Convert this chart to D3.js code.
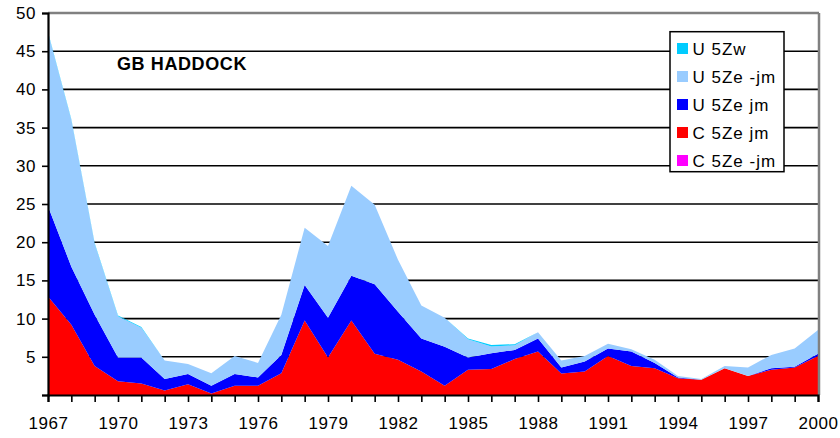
<!DOCTYPE html>
<html><head><meta charset="utf-8">
<script src="https://cdn.jsdelivr.net/npm/d3@7"></script>
<style>body{margin:0;background:#fff}svg{display:block;font-family:"Liberation Sans",Arial,sans-serif}</style>
</head><body><svg id="c" width="840" height="438"></svg>
<script>
const years = d3.range(1967, 2001);
const xTickLabels = [1967,1970,1973,1976,1979,1982,1985,1988,1991,1994,1997,2000];
const yTicks = [5,10,15,20,25,30,35,40,45,50];
const seriesNames = ["C 5Ze -jm","C 5Ze jm","U 5Ze jm","U 5Ze -jm","U 5Zw"];
const seriesColors = ["#FF00FF","#FF0000","#0000FF","#99CCFF","#00CCFF"];
const C5Ze_njm = [0,0,0,0,0,0,0,0,0,0,0,0,0,0,0,0,0,0,0,0,0,0,0,0,0,0,0,0,0,0,0,0,0,0];
const C5Ze_jm  = [12.9,9.2,3.8,1.8,1.5,0.6,1.4,0.2,1.2,1.2,2.85,9.75,4.9,9.75,5.4,4.6,3.06,1.2,3.3,3.4,4.7,5.7,2.8,3.06,5.1,3.8,3.5,2.2,2.0,3.5,2.5,3.3,3.6,5.1];
const U5Ze_jm  = [11.8,7.6,6.7,3.1,3.4,1.5,1.36,1.02,1.56,1.1,2.4,4.65,5.2,5.85,9.1,6.3,4.34,5.1,1.6,2.05,1.2,1.7,0.8,1.34,1.0,1.9,0.7,0.1,0,0,0,0.2,0.1,0.3];
const U5Ze_njm = [22.7,19.2,9.3,5.4,3.9,2.4,1.31,1.63,2.34,1.9,5.25,7.5,9.4,11.8,10.4,6.8,4.3,3.8,2.4,0.9,0.6,0.8,0.9,0.7,0.6,0.3,0.4,0.2,0.1,0.3,1.1,1.75,2.4,3.1];
const U5Zw     = [0.1,0.1,0.1,0.1,0.1,0,0,0,0,0,0,0,0,0,0,0,0,0,0.1,0.2,0.15,0,0,0,0,0,0,0,0,0,0,0,0,0];

const table = years.map((y,i)=>({year:y,"C 5Ze -jm":C5Ze_njm[i],"C 5Ze jm":C5Ze_jm[i],"U 5Ze jm":U5Ze_jm[i],"U 5Ze -jm":U5Ze_njm[i],"U 5Zw":U5Zw[i]}));

const svg = d3.select("#c");
const L=48, R=818, T=13, B=395;
const x = d3.scaleLinear().domain([1967,2000]).range([L,R]);
const y = d3.scaleLinear().domain([0,50]).range([B,T]);
const FONT = "'Liberation Sans',Arial,sans-serif";

// gridlines
svg.append("g").selectAll("line").data(yTicks.filter(v=>v<50)).join("line")
  .attr("x1",L).attr("x2",R).attr("y1",d=>y(d)).attr("y2",d=>y(d))
  .attr("stroke","#000").attr("stroke-width",1.6);

const stack = d3.stack().keys(seriesNames)(table);
const area = d3.area().x(d=>x(d.data.year)).y0(d=>y(d[0])).y1(d=>y(d[1]));
svg.append("g").selectAll("path").data(stack).join("path")
  .attr("d",area).attr("fill",(d,i)=>seriesColors[i]);

// plot border top/right grey
svg.append("line").attr("x1",L).attr("x2",R+1).attr("y1",y(50)).attr("y2",y(50)).attr("stroke","#808080").attr("stroke-width",2.5);
svg.append("line").attr("x1",R+1).attr("x2",R+1).attr("y1",y(50)).attr("y2",B).attr("stroke","#808080").attr("stroke-width",2.5);

// y axis
const ya = svg.append("g").attr("transform",`translate(${L},0)`)
  .call(d3.axisLeft(y).tickValues([0,...yTicks]).tickSize(6).tickFormat(d=>d===0?"":d));
ya.select(".domain").attr("stroke","#000").attr("stroke-width",2.2);
ya.selectAll(".tick line").attr("stroke","#000").attr("stroke-width",1.6);
ya.selectAll("text").attr("font-size",17).attr("letter-spacing",0.5).attr("fill","#000").attr("x",-12).attr("font-family",FONT);

// x axis
const xa = svg.append("g").attr("transform",`translate(0,${B})`)
  .call(d3.axisBottom(x).tickValues(years).tickSize(7).tickFormat(d=>xTickLabels.includes(d)?d:""));
xa.select(".domain").attr("stroke","#000").attr("stroke-width",2.2);
xa.selectAll(".tick line").attr("stroke","#000").attr("stroke-width",1.6);
xa.selectAll("text").attr("font-size",17).attr("letter-spacing",0.5).attr("fill","#000").attr("y",22).attr("font-family",FONT);

// title
svg.append("text").attr("x",117).attr("y",70).attr("font-size",18).attr("letter-spacing",0.6)
  .attr("font-weight","bold").text("GB HADDOCK");

// legend
const lg = svg.append("g");
lg.append("rect").attr("x",670).attr("y",31.7).attr("width",114).attr("height",140)
  .attr("fill","#fff").attr("stroke","#000").attr("stroke-width",1.5);
const legendItems = seriesNames.slice().reverse().map((n,i)=>({n,c:seriesColors[seriesColors.length-1-i]}));
const rows = lg.selectAll("g.it").data(legendItems).join("g").attr("class","it")
  .attr("transform",(d,i)=>`translate(677,${48.5+i*28})`);
rows.append("rect").attr("x",0).attr("y",-5.5).attr("width",11).attr("height",11).attr("fill",d=>d.c);
rows.append("text").attr("x",15.5).attr("y",6).attr("font-size",17).attr("letter-spacing",1).text(d=>d.n);
</script></body></html>
